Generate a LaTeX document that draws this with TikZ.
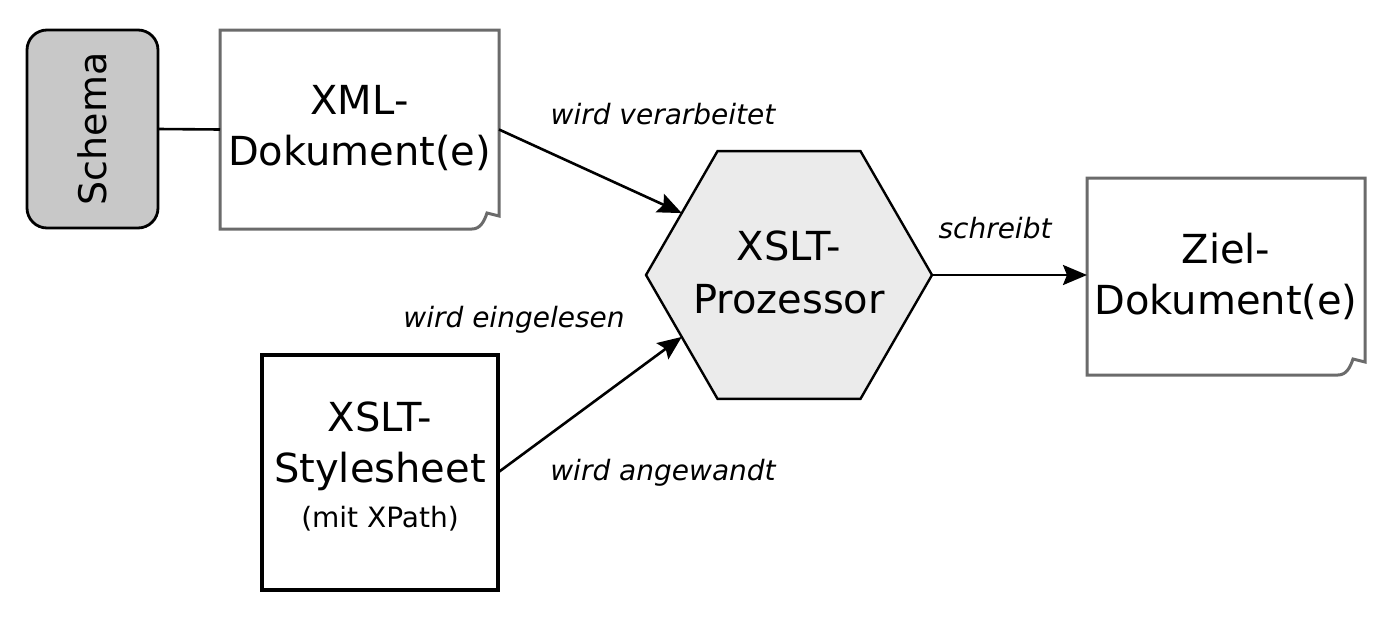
\documentclass[tikz,border=0pt]{standalone}
\usepackage{fontspec}
\setmainfont{DejaVu Sans}
\usetikzlibrary{shapes.geometric,arrows.meta,calc}
\definecolor{docgray}{HTML}{6B6B6B}
\definecolor{schemafill}{HTML}{C8C8C8}
\definecolor{hexfill}{HTML}{EBEBEB}
\newcommand{\mainsize}{\fontsize{40}{51}\selectfont}
\newcommand{\labelsize}{\fontsize{28}{34}\selectfont\itshape}
\newcommand{\docoutline}[1]{%
  \draw[docline] (#1.north west) -- (#1.north east) -- ($(#1.south east)+(0,-13)$)
    -- ($(#1.south east)+(-12,-16)$)
    .. controls ($(#1.south east)+(-15,-7)$) and ($(#1.south east)+(-19,0)$) .. ($(#1.south east)+(-27,0)$)
    -- (#1.south west) -- cycle;}
\tikzset{
  docnode/.style={rectangle, inner sep=0pt, outer sep=0pt, align=center, font=\mainsize},
  docline/.style={draw=docgray, line width=3pt, line join=miter, fill=white},
  arr/.style={line width=2.6pt, -{Stealth[length=24pt,width=20pt,inset=4pt]}},
  lab/.style={font=\labelsize, inner sep=0pt}
}
\begin{document}
\begin{tikzpicture}[x=1pt,y=-1pt]
\useasboundingbox (0,0) rectangle (1397,629);
% Schema
\node[rectangle, rounded corners=20pt, draw=black, line width=2.8pt, fill=schemafill,
      minimum width=131pt, minimum height=198pt, inner sep=0pt, outer sep=0pt]
      (schema) at (92.5,129) {};
\node[rotate=90, font=\fontsize{38}{44}\selectfont, inner sep=0pt] (schematext) at (92,129) {Schema};
% XML document
\node[docnode, minimum width=279pt, minimum height=199pt] (xml) at (359.5,129.5) {};
\docoutline{xml}
\node[docnode, inner sep=0pt] (xmltext) at (359.5,128) {XML-\\Dokument(e)};
% target document
\node[docnode, minimum width=278pt, minimum height=197pt] (tgt) at (1226,276.5) {};
\docoutline{tgt}
\node[docnode] (tgttext) at (1226,276) {Ziel-\\Dokument(e)};
% stylesheet
\node[rectangle, draw=black, line width=3.2pt, minimum width=236pt, minimum height=235pt,
      inner sep=0pt, outer sep=0pt] (ss) at (380,472.5) {};
\node[align=center, inner sep=0pt, font=\mainsize] (sstext) at (380,466)
  {XSLT-\\Stylesheet\\[-6pt]\fontsize{28}{34}\selectfont (mit XPath)};
% hexagon
\node[regular polygon, regular polygon sides=6, draw=black, line width=2.4pt, fill=hexfill,
      minimum size=286pt, inner sep=0pt, outer sep=0pt] (hex) at (789,275) {};
\node[align=center, font=\fontsize{40}{53}\selectfont, inner sep=0pt] (hextext) at (789,272) {XSLT-\\Prozessor};
% connectors
\draw[line width=2.6pt] (schema.east) -- (xml.west);
\draw[arr] (xml.east) -- (hex.side 2);
\draw[arr] (ss.east) -- (hex.side 3);
\draw[arr] (hex.corner 6) -- (hex.corner 6 -| tgt.west);
% labels
\node[lab] (l1) at (663,114) {wird verarbeitet};
\node[lab] (l2) at (995,228) {schreibt};
\node[lab] (l3) at (514,320) {wird eingelesen};
\node[lab] (l4) at (663,473) {wird angewandt};
\end{tikzpicture}
\end{document}
